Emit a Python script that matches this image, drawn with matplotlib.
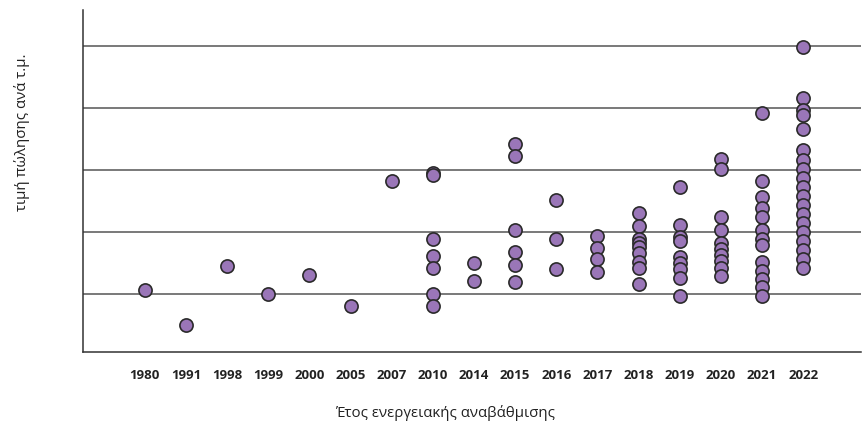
import matplotlib
matplotlib.use("Agg")
import matplotlib.pyplot as plt

# Έτη (κατηγορίες του άξονα x)
years = ["1980", "1991", "1998", "1999", "2000", "2005", "2007", "2010", "2014",
         "2015", "2016", "2017", "2018", "2019", "2020", "2021", "2022"]

# Τιμές πώλησης ανά τ.μ. για κάθε έτος (εκτίμηση από την εικόνα)
prices = [
    [1060],
    [500],
    [1450],
    [1000],
    [1310],
    [800],
    [2820],
    [2950, 2920, 1890, 1610, 1420, 1000, 800],
    [1500, 1215],
    [3420, 3230, 2040, 1670, 1470, 1195],
    [2520, 1890, 1410],
    [1935, 1740, 1565, 1350],
    [2310, 2100, 1880, 1830, 1765, 1655, 1520, 1415, 1160],
    [2720, 2110, 1915, 1860, 1600, 1495, 1410, 1255, 970],
    [3170, 3010, 2250, 2030, 1830, 1720, 1630, 1530, 1415, 1290],
    [3920, 2820, 2570, 2380, 2250, 2030, 1880, 1790, 1520, 1375, 1235, 1110, 970],
    [4990, 4155, 3970, 3890, 3655, 3325, 3160, 3015, 2875, 2730, 2580, 2435,
     2290, 2150, 2000, 1855, 1710, 1560, 1415],
]

grid_values = [1000, 2000, 3000, 4000, 5000]

fig = plt.figure(figsize=(8.67, 4.30), dpi=100)
ax = fig.add_axes([0.0957, 0.1814, 0.8973, 0.7953])

for i, vals in enumerate(prices):
    ax.scatter([i] * len(vals), vals, s=90, color="#9a76b8",
               edgecolor="#2a2a2a", linewidth=1.2, zorder=3)

for g in grid_values:
    ax.axhline(g, color="#555555", linewidth=1.1, zorder=1)

ax.set_xlim(-1.5, len(years) + 0.4)
ax.set_ylim(65, 5580)
ax.set_xticks(range(len(years)))
ax.set_xticklabels(years, fontfamily="Open Sans", fontweight="bold", fontsize=9.5, color="#222222")
ax.set_yticks([])
ax.tick_params(axis="x", length=0, pad=12)

for side in ["top", "right"]:
    ax.spines[side].set_visible(False)
ax.spines["left"].set_color("#333333")
ax.spines["bottom"].set_color("#333333")
ax.spines["left"].set_linewidth(1.1)
ax.spines["bottom"].set_linewidth(1.1)

fig.text(445 / 867, 1 - 413 / 430, "Έτος ενεργειακής αναβάθμισης", ha="center", va="center",
         fontfamily="Open Sans", fontsize=10.8, color="#222222")
fig.text(22 / 867, 1 - 132 / 430, "τιμή πώλησης ανά τ.μ.", ha="center", va="center",
         rotation=90, fontfamily="Open Sans", fontsize=10.8, color="#222222")

fig.savefig("out.png", dpi=100)
